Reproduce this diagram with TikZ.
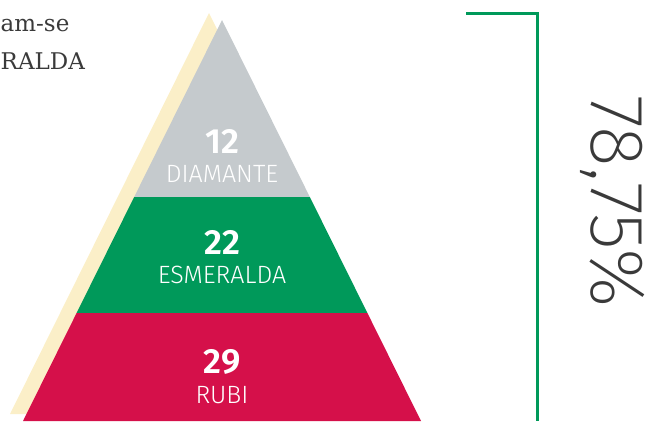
\documentclass[tikz,border=0pt]{standalone}
\usepackage{fontspec}
\setmainfont{Fira Sans}
\newfontfamily\lightfont{Fira Sans Light}
\newfontfamily\thinfont{Fira Sans ExtraLight}
\newfontfamily\semifont{Fira Sans SemiBold}
\newfontfamily\newsfont{DejaVu Serif}
\definecolor{diamante}{HTML}{C5CACD}
\definecolor{esmeralda}{HTML}{00995A}
\definecolor{rubi}{HTML}{D5104A}
\definecolor{creme}{HTML}{FBEFC8}
\definecolor{texto}{HTML}{3A3A3A}
\tikzset{
  numero/.style={text=white, anchor=base, inner sep=0pt, font=\fontsize{35}{35}\selectfont\semifont},
  nivel/.style={text=white, anchor=base, inner sep=0pt, font=\fontsize{25}{25}\selectfont\lightfont},
  corrido/.style={anchor=base west, inner sep=0pt, text=texto, font=\fontsize{23}{23}\selectfont\newsfont},
}

\begin{document}
\begin{tikzpicture}[x=1pt,y=-1pt]
	\useasboundingbox (0,0) rectangle (647,421);
	% texto cortado
	\node[corrido] (linha1) at (0.5,31) {am-se};
	\node[corrido] (linha2) at (0.5,69) {RALDA};
	% sombra
	\fill[creme] (209,13) -- (10,414) -- (408,414) -- cycle;
	% piramide
	\begin{scope}
		\clip (222,20) -- (23,421) -- (421,421) -- cycle;
		\fill[diamante] (0,0) rectangle (647,197);
		\fill[esmeralda] (0,197) rectangle (647,313);
		\fill[rubi] (0,313) rectangle (647,430);
	\end{scope}
	\node[numero] (n12) at (222,153) {12};
	\node[nivel] (diamante) at (222,182) {DIAMANTE};
	\node[numero] (n22) at (222,254) {22};
	\node[nivel] (esmeralda) at (222,283) {ESMERALDA};
	\node[numero] (n29) at (222,373) {29};
	\node[nivel] (rubi) at (222,403) {RUBI};
	% chave
	\draw[esmeralda, line width=3pt] (466,13) -- (537,13) -- (537,421);
	\node[rotate=-90, text=texto, inner sep=0pt, font=\fontsize{76}{76}\selectfont\thinfont] (total) at (613,202) {78,75\%};
\end{tikzpicture}
\end{document}
